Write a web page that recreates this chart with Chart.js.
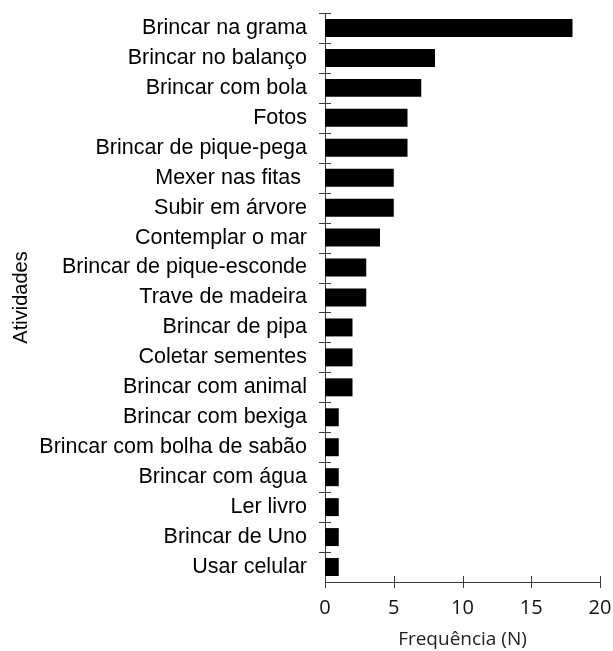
<!DOCTYPE html>
<html>
<head>
<meta charset="utf-8">
<script src="https://cdn.jsdelivr.net/npm/chart.js@4.4.1/dist/chart.umd.min.js"></script>
<style>
  html, body { margin: 0; padding: 0; background: #fff; }
  canvas { display: block; }
</style>
</head>
<body>
<canvas id="chart" width="613" height="651"></canvas>
<script>
const activities = [
  'Brincar na grama',
  'Brincar no balanço',
  'Brincar com bola',
  'Fotos',
  'Brincar de pique-pega',
  'Mexer nas fitas ',
  'Subir em árvore',
  'Contemplar o mar',
  'Brincar de pique-esconde',
  'Trave de madeira',
  'Brincar de pipa',
  'Coletar sementes',
  'Brincar com animal',
  'Brincar com bexiga',
  'Brincar com bolha de sabão',
  'Brincar com água',
  'Ler livro',
  'Brincar de Uno',
  'Usar celular'
];
const frequency = [18, 8, 7, 6, 6, 5, 5, 4, 3, 3, 2, 2, 2, 1, 1, 1, 1, 1, 1];
const xTicks = [0, 5, 10, 15, 20];

const axisColor = '#3a3a3a';

// tick marks that cross the axis line on both sides
const crossTicks = {
  id: 'crossTicks',
  afterDraw(chart) {
    const ctx = chart.ctx;
    const x = chart.scales.x;
    const y = chart.scales.y;
    const half = 6;
    ctx.save();
    ctx.strokeStyle = axisColor;
    ctx.lineWidth = 1;
    ctx.beginPath();
    for (const v of xTicks) {
      const px = Math.round(x.getPixelForValue(v)) + 0.5;
      ctx.moveTo(px, y.bottom - half);
      ctx.lineTo(px, y.bottom + half);
    }
    const step = y.getPixelForValue(1) - y.getPixelForValue(0);
    for (let i = 0; i < activities.length; i++) {
      const py = Math.round(y.getPixelForValue(i) - step / 2) + 0.5;
      ctx.moveTo(x.left - half, py);
      ctx.lineTo(x.left + half, py);
    }
    ctx.stroke();
    ctx.restore();
  }
};

new Chart(document.getElementById('chart'), {
  type: 'bar',
  data: {
    labels: activities,
    datasets: [{
      data: frequency,
      backgroundColor: '#000',
      borderWidth: 0,
      barPercentage: 0.6,
      categoryPercentage: 1
    }]
  },
  options: {
    indexAxis: 'y',
    responsive: false,
    animation: false,
    layout: { padding: { top: 13, right: 13, left: 0, bottom: 0 } },
    plugins: {
      legend: { display: false },
      tooltip: { enabled: false }
    },
    scales: {
      x: {
        min: 0,
        max: 20,
        afterBuildTicks: (scale) => { scale.ticks = xTicks.map(v => ({ value: v })); },
        afterFit: (scale) => {
          scale.height = 69;
          scale.paddingLeft = 0;
          scale.paddingRight = 0;
        },
        grid: { display: false, drawTicks: false },
        border: { display: true, color: axisColor, width: 1 },
        ticks: {
          padding: 14,
          color: '#111',
          maxRotation: 0,
          font: { family: '"Open Sans", sans-serif', size: 20 }
        },
        title: {
          display: true,
          text: 'Frequência (N)',
          color: '#222',
          padding: { top: 0, bottom: 0 },
          font: { family: '"Open Sans", sans-serif', size: 19 }
        }
      },
      y: {
        offset: true,
        afterFit: (scale) => {
          scale.width = 325;
          scale.paddingTop = 0;
          scale.paddingBottom = 0;
        },
        grid: { display: false, drawTicks: false },
        border: { display: true, color: axisColor, width: 1 },
        ticks: {
          padding: 18,
          color: '#000',
          autoSkip: false,
          font: { family: '"Liberation Sans", Arial, sans-serif', size: 21.5 }
        },
        title: {
          display: true,
          text: 'Atividades',
          color: '#000',
          padding: { top: 9, bottom: 0 },
          font: { family: '"Liberation Sans", Arial, sans-serif', size: 20 }
        }
      }
    }
  },
  plugins: [crossTicks]
});
</script>
</body>
</html>
